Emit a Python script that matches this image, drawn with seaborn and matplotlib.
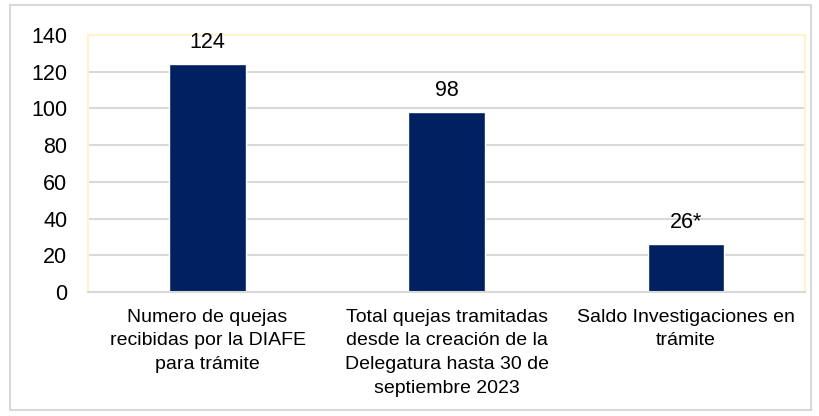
import matplotlib
import pandas as pd
import seaborn as sns

matplotlib.use("Agg")
import matplotlib.pyplot as plt
from matplotlib.patches import Rectangle

categories = [
    "Numero de quejas\nrecibidas por la DIAFE\npara trámite",
    "Total quejas tramitadas\ndesde la creación de la\nDelegatura hasta 30 de\nseptiembre 2023",
    "Saldo Investigaciones en\ntrámite",
]
values = [124, 98, 26]
value_labels = ["124", "98", "26*"]
y_ticks = [0, 20, 40, 60, 80, 100, 120, 140]

df = pd.DataFrame({"categoria": categories, "valor": values})

sns.set_style("white")
plt.rcParams["font.family"] = ["Liberation Sans", "DejaVu Sans"]
plt.rcParams["text.color"] = "black"
plt.rcParams["xtick.color"] = "black"
plt.rcParams["ytick.color"] = "black"

fig = plt.figure(figsize=(8.19, 4.16), dpi=100)
ax = fig.add_axes([0.1074, 0.298, 0.876, 0.618])

sns.barplot(data=df, x="categoria", y="valor", color="#002060", width=0.32,
            saturation=1, ax=ax)

ax.set_ylim(0, 140)
ax.set_yticks(y_ticks)
ax.yaxis.grid(True, color="#d9d9d9", linewidth=1.5)
ax.set_axisbelow(True)
ax.set_xlabel("")
ax.set_ylabel("")
ax.tick_params(axis="y", labelsize=15.5, length=0, pad=15)
ax.tick_params(axis="x", labelsize=14, length=0, pad=12)
for lbl in ax.get_xticklabels():
    lbl.set_linespacing(1.52)

for side in ["left", "top", "right"]:
    ax.spines[side].set_color("#fff2cc")
    ax.spines[side].set_linewidth(1.5)
ax.spines["bottom"].set_color("#d9d9d9")
ax.spines["bottom"].set_linewidth(1.5)

ax.bar_label(ax.containers[0], labels=value_labels, padding=8, fontsize=15.5,
             color="black")

# outer chart border
fig.patches.append(Rectangle((10 / 819, 1 - 410 / 416), 801 / 819, 405 / 416,
                             transform=fig.transFigure, fill=False,
                             edgecolor="#d9d9d9", linewidth=1.5))

fig.savefig("out.png", dpi=100)
plt.close(fig)
